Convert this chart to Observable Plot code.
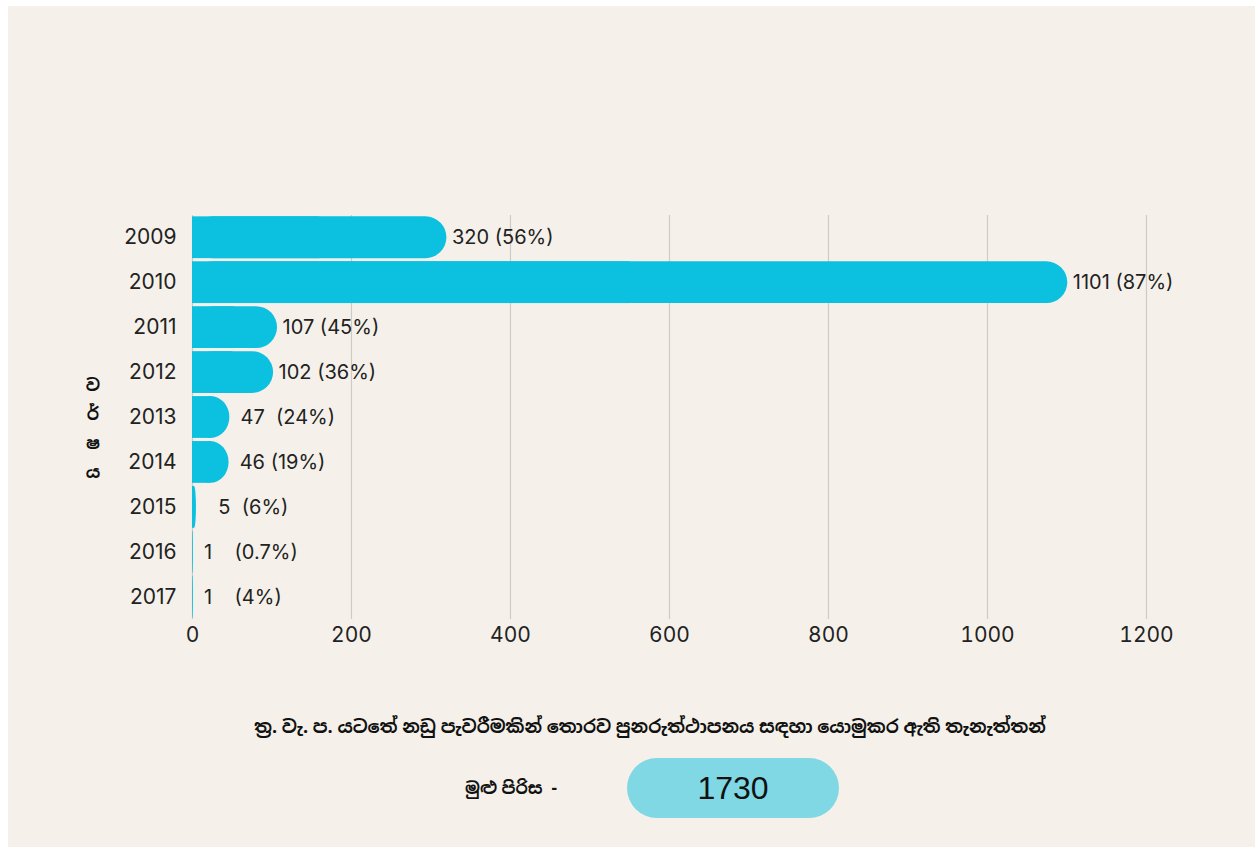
<!DOCTYPE html>
<html>
<head>
<meta charset="utf-8">
<script src="https://cdn.jsdelivr.net/npm/d3@7"></script>
<script src="https://cdn.jsdelivr.net/npm/@observablehq/plot@0.6"></script>
<style>
  html, body { margin: 0; padding: 0; background: #ffffff; }
  body { width: 1255px; height: 847px; position: relative; overflow: hidden;
         font-family: "Open Sans", "Noto Sans Sinhala", "Noto Sans", sans-serif; }
  #panel { position: absolute; left: 8px; top: 6px; width: 1247px; height: 841px; background: #f5f1ea; overflow: hidden; }
  #chart { position: absolute; left: 0; top: 0; }
  #ylabel { position: absolute; left: 70px; top: 364px; width: 30px; text-align: center;
            font-weight: bold; font-size: 17px; line-height: 29px; color: #111; }
  #caption { position: absolute; left: 0; width: 1284px; top: 708px; text-align: center;
             font-weight: bold; font-size: 18px; color: #111; white-space: nowrap; }
  #totalLabel { position: absolute; left: 457px; top: 770px; font-weight: bold; font-size: 17px; color: #111; white-space: pre; }
  #pill { position: absolute; left: 619px; top: 752px; width: 212px; height: 60px; border-radius: 30px;
          background: #7fd8e3; color: #111; font-family: "Liberation Sans", Arial, sans-serif;
          font-size: 32px; line-height: 60px; text-align: center; }
</style>
</head>
<body>
<div id="panel">
  <div id="chart"></div>
  <div id="ylabel"></div>
  <div id="caption"></div>
  <div id="totalLabel"></div>
  <div id="pill"></div>
</div>
<script>
const years = ["2009", "2010", "2011", "2012", "2013", "2014", "2015", "2016", "2017"];
const counts = [320, 1101, 107, 102, 47, 46, 5, 1, 1];
const percents = ["56%", "87%", "45%", "36%", "24%", "19%", "6%", "0.7%", "4%"];
// spacing between count and percentage as it appears in the original labels
const labelGaps = [" ", " ", " ", " ", "  ", " ", "  ", "    ", "    "];
const labelLead = ["", "", "", "", " ", " ", "   ", " ", " "];
const xTicks = [0, 200, 400, 600, 800, 1000, 1200];
const yAxisLabelChars = ["ව", "ර්", "ෂ", "ය"];
const captionText = "ත්‍ර. වැ. ප. යටතේ නඩු පැවරීමකින් තොරව පුනරුත්ථාපනය සඳහා යොමුකර ඇති තැනැත්තන්";
const totalLabelText = "මුළු පිරිස  -";
const totalValue = 1730;

const nb = s => s.replace(/ /g, "\u00a0");
const data = years.map((y, i) => ({
  year: y,
  count: counts[i],
  label: nb(labelLead[i]) + counts[i] + nb(labelGaps[i]) + "(" + percents[i] + ")"
}));

const barColor = "#0cc0e0";
const font = "Inter, 'Open Sans', sans-serif";

const chart = Plot.plot({
  width: 1247,
  height: 660,
  marginTop: 209,
  marginBottom: 47,
  marginLeft: 184,
  marginRight: 109,
  style: { background: "transparent", fontSize: "21px", fontFamily: font, color: "#222" },
  x: { domain: [0, 1200] },
  y: { domain: years, paddingInner: 0.07, paddingOuter: 0.03, round: false },
  marks: [
    Plot.gridX(xTicks, { stroke: "#cfcac4", strokeOpacity: 1, strokeWidth: 1.2 }),
    Plot.barX(data, { x1: 0, x2: "count", y: "year", fill: barColor, rx: 21 }),
    Plot.barX(data, { x1: 0, x2: d => d.count / 2, y: "year", fill: barColor }),
    Plot.text(data, { x: "count", y: "year", text: "label", textAnchor: "start", dx: 5, fontSize: 20, fontFamily: font, fill: "#222" }),
    Plot.axisY({ tickSize: 0, tickPadding: 16, fontSize: 21, fontFamily: font, label: null }),
    Plot.axisX({ ticks: xTicks, tickFormat: d => String(d), tickSize: 0, tickPadding: 8, fontSize: 21, fontFamily: font, label: null })
  ]
});
document.getElementById("chart").appendChild(chart);

document.getElementById("ylabel").innerHTML = yAxisLabelChars.map(c => `<div>${c}</div>`).join("");
document.getElementById("caption").textContent = captionText;
document.getElementById("totalLabel").textContent = totalLabelText;
document.getElementById("pill").textContent = totalValue;
</script>
</body>
</html>
